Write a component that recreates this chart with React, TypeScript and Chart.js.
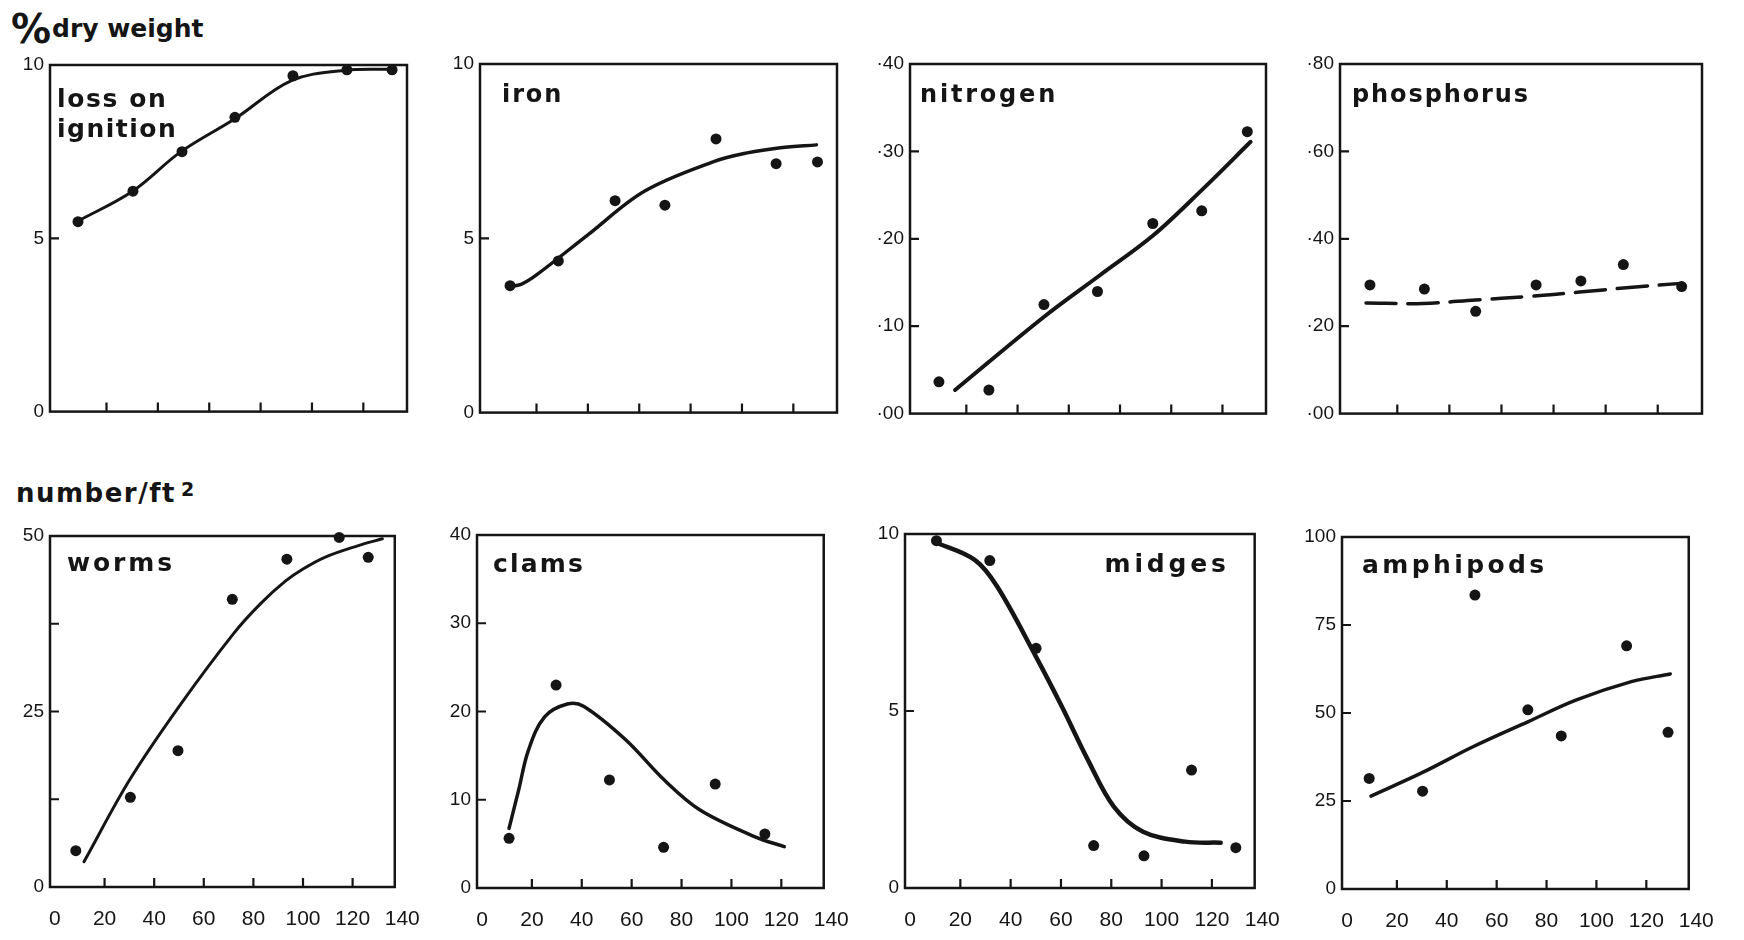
import React, { useEffect, useRef } from "react";
import { Chart, registerables } from "chart.js";

Chart.register(...registerables);

const INK = "#151515";
const TITLE_FONT = "'DejaVu Sans', sans-serif";
const TICK_FONT = "'Liberation Sans', Arial, sans-serif";

// shared x axis (distance)
const xTickValues = [0, 20, 40, 60, 80, 100, 120, 140];
const xInnerTicks = [20, 40, 60, 80, 100, 120];

// loss on ignition (% dry weight)
const lossX = [8.9, 30.3, 49.4, 70.0, 92.6, 113.6, 131.2];
const lossY = [5.48, 6.36, 7.5, 8.49, 9.69, 9.86, 9.86];
const lossCurveX = [9, 30, 49, 70, 92, 113, 131];
const lossCurveY = [5.5, 6.35, 7.5, 8.45, 9.55, 9.85, 9.88];

// iron
const ironX = [9.7, 28.5, 50.6, 70.0, 89.9, 113.3, 129.4];
const ironY = [3.64, 4.35, 6.08, 5.95, 7.85, 7.14, 7.19];
const ironCurveX = [9.5, 14, 20, 40, 62, 89, 102, 115, 129];
const ironCurveY = [3.62, 3.68, 3.95, 5.1, 6.35, 7.2, 7.45, 7.6, 7.68];

// nitrogen
const nitroX = [9.3, 28.8, 50.3, 71.2, 92.8, 111.9, 129.7];
const nitroY = [3.64, 2.7, 12.47, 13.97, 21.75, 23.2, 32.26];
const nitroCurveX = [15.6, 50, 72, 93, 112, 131];
const nitroCurveY = [2.7, 11.0, 15.8, 20.4, 25.6, 31.1];

// phosphorus
const phosX = [9.5, 30.4, 50.1, 73.3, 90.5, 106.8, 129.2];
const phosY = [29.45, 28.5, 23.4, 29.45, 30.35, 34.1, 29.07];
const phosCurveX = [8, 30, 50, 70, 90, 108, 129];
const phosCurveY = [25.3, 25.2, 26.0, 26.8, 27.8, 28.8, 29.8];

// worms (number/ft2)
const wormsX = [8.4, 30.4, 49.6, 71.5, 93.5, 114.6, 126.3];
const wormsY = [5.17, 12.77, 19.42, 40.98, 46.7, 49.8, 46.97];
const wormsCurveX = [11.7, 30, 50, 72, 83, 93, 100, 109, 122, 132];
const wormsCurveY = [3.6, 15.2, 25.7, 36.1, 40.4, 43.6, 45.3, 47.0, 48.6, 49.6];

// clams
const clamsX = [10.85, 29.7, 51.1, 72.8, 93.5, 113.4];
const clamsY = [5.63, 23.0, 12.24, 4.61, 11.78, 6.12];
const clamsCurveX = [10.85, 14.7, 18.6, 25.1, 34.2, 40.7, 57.6, 73.2, 87.4, 109.5, 121.2];
const clamsCurveY = [6.76, 11.1, 15.6, 19.4, 20.85, 20.6, 16.8, 12.2, 8.84, 5.8, 4.68];

// midges
const midgesX = [10.5, 31.7, 50.1, 73.0, 93.0, 111.9, 129.5];
const midgesY = [9.81, 9.25, 6.77, 1.2, 0.91, 3.33, 1.14];
const midgesCurveX = [9.6, 25.7, 34.7, 50.1, 60.4, 70.7, 81, 92.6, 109.4, 123.5];
const midgesCurveY = [9.78, 9.27, 8.51, 6.53, 5.12, 3.62, 2.3, 1.59, 1.31, 1.28];

// amphipods
const amphiX = [8.9, 30.3, 51.3, 72.5, 85.9, 112.1, 128.7];
const amphiY = [31.4, 27.8, 83.5, 50.9, 43.5, 69.1, 44.5];
const amphiCurveX = [9.6, 29.7, 50.5, 72.5, 92, 114, 129.6];
const amphiCurveY = [26.4, 32.9, 40.4, 47.5, 53.7, 58.9, 61.1];

// y axis labels / inner marks
const yLabelsTen = [0, 5, 10];
const yMarksTen = [5];
const yLabelsN = [0, 10, 20, 30, 40];
const yMarksN = [10, 20, 30];
const yLabelsP = [0, 20, 40, 60, 80];
const yMarksP = [20, 40, 60];
const yLabelsWorms = [0, 25, 50];
const yMarksWorms = [12.5, 25, 37.5];
const yLabelsClams = [0, 10, 20, 30, 40];
const yMarksClams = [10, 20, 30];
const yLabelsAmphi = [0, 25, 50, 75, 100];
const yMarksAmphi = [25, 50, 75];

const plainFmt = (v: number) => String(v);
const decFmt = (v: number) => "·" + String(v).padStart(2, "0");

type Panel = {
  key: string;
  left: number;
  top: number;
  w: number;
  h: number;
  bottomRow: boolean;
  yMax: number;
  yLabels: number[];
  yMarks: number[];
  fmt: (v: number) => string;
  title: string[];
  titleAlign: "left" | "right";
  titleDx: number;
  titleBase: number;
  titleLine: number;
  titleSize: number;
  titleSpacing: number[];
  px: number[];
  py: number[];
  cx: number[];
  cy: number[];
  dashed?: boolean;
  lineWidth: number;
};

const panels: Panel[] = [
  {
    key: "loss", left: 50, top: 65, w: 357, h: 352, bottomRow: false, yMax: 10,
    yLabels: yLabelsTen, yMarks: yMarksTen, fmt: plainFmt,
    title: ["loss on", "ignition"], titleAlign: "left", titleDx: 7, titleBase: 42, titleLine: 30,
    titleSize: 25, titleSpacing: [1.6, 1.5],
    px: lossX, py: lossY, cx: lossCurveX, cy: lossCurveY, lineWidth: 3,
  },
  {
    key: "iron", left: 480, top: 64, w: 357, h: 354, bottomRow: false, yMax: 10,
    yLabels: yLabelsTen, yMarks: yMarksTen, fmt: plainFmt,
    title: ["iron"], titleAlign: "left", titleDx: 22, titleBase: 38, titleLine: 30,
    titleSize: 24, titleSpacing: [1.9],
    px: ironX, py: ironY, cx: ironCurveX, cy: ironCurveY, lineWidth: 3.5,
  },
  {
    key: "nitrogen", left: 910, top: 64, w: 356, h: 355, bottomRow: false, yMax: 40,
    yLabels: yLabelsN, yMarks: yMarksN, fmt: decFmt,
    title: ["nitrogen"], titleAlign: "left", titleDx: 10, titleBase: 38, titleLine: 30,
    titleSize: 24, titleSpacing: [2.8],
    px: nitroX, py: nitroY, cx: nitroCurveX, cy: nitroCurveY, lineWidth: 4,
  },
  {
    key: "phosphorus", left: 1340, top: 64, w: 362, h: 355, bottomRow: false, yMax: 80,
    yLabels: yLabelsP, yMarks: yMarksP, fmt: decFmt,
    title: ["phosphorus"], titleAlign: "left", titleDx: 12, titleBase: 38, titleLine: 30,
    titleSize: 24, titleSpacing: [1.9],
    px: phosX, py: phosY, cx: phosCurveX, cy: phosCurveY, dashed: true, lineWidth: 3.5,
  },
  {
    key: "worms", left: 50, top: 536, w: 355, h: 351, bottomRow: true, yMax: 50,
    yLabels: yLabelsWorms, yMarks: yMarksWorms, fmt: plainFmt,
    title: ["worms"], titleAlign: "left", titleDx: 17, titleBase: 35, titleLine: 30,
    titleSize: 25, titleSpacing: [2.9],
    px: wormsX, py: wormsY, cx: wormsCurveX, cy: wormsCurveY, lineWidth: 3,
  },
  {
    key: "clams", left: 477, top: 535, w: 357, h: 353, bottomRow: true, yMax: 40,
    yLabels: yLabelsClams, yMarks: yMarksClams, fmt: plainFmt,
    title: ["clams"], titleAlign: "left", titleDx: 16, titleBase: 37, titleLine: 30,
    titleSize: 25, titleSpacing: [2.2],
    px: clamsX, py: clamsY, cx: clamsCurveX, cy: clamsCurveY, lineWidth: 3.5,
  },
  {
    key: "midges", left: 905, top: 534, w: 360, h: 354, bottomRow: true, yMax: 10,
    yLabels: yLabelsTen, yMarks: yMarksTen, fmt: plainFmt,
    title: ["midges"], titleAlign: "right", titleDx: 25, titleBase: 38, titleLine: 30,
    titleSize: 25, titleSpacing: [3.8],
    px: midgesX, py: midgesY, cx: midgesCurveX, cy: midgesCurveY, lineWidth: 4.5,
  },
  {
    key: "amphipods", left: 1342, top: 537, w: 357, h: 352, bottomRow: true, yMax: 100,
    yLabels: yLabelsAmphi, yMarks: yMarksAmphi, fmt: plainFmt,
    title: ["amphipods"], titleAlign: "left", titleDx: 20, titleBase: 36, titleLine: 30,
    titleSize: 25, titleSpacing: [3.4],
    px: amphiX, py: amphiY, cx: amphiCurveX, cy: amphiCurveY, lineWidth: 3.5,
  },
];

const PAD_LEFT = 50;
const PAD_TOP = 20;

function PanelChart({ p }: { p: Panel }) {
  const ref = useRef<HTMLCanvasElement | null>(null);
  const padRight = p.bottomRow ? 34 : 15;
  const padBottom = p.bottomRow ? 46 : 12;
  const cw = p.w + PAD_LEFT + padRight;
  const ch = p.h + PAD_TOP + padBottom;

  useEffect(() => {
    const canvas = ref.current;
    if (!canvas) return;

    const framePlugin = {
      id: "frame-" + p.key,
      afterDraw(chart: any) {
        const { ctx, chartArea } = chart;
        const xs = chart.scales.x;
        const ys = chart.scales.y;
        ctx.save();
        ctx.strokeStyle = INK;
        ctx.lineWidth = 2.5;
        ctx.strokeRect(chartArea.left, chartArea.top, chartArea.right - chartArea.left, chartArea.bottom - chartArea.top);
        ctx.lineWidth = 2.2;
        ctx.beginPath();
        for (const v of xInnerTicks) {
          const x = xs.getPixelForValue(v);
          ctx.moveTo(x, chartArea.bottom);
          ctx.lineTo(x, chartArea.bottom - 9);
        }
        for (const v of p.yMarks) {
          const y = ys.getPixelForValue(v);
          ctx.moveTo(chartArea.left, y);
          ctx.lineTo(chartArea.left + 9, y);
        }
        ctx.stroke();
        ctx.fillStyle = INK;
        ctx.textBaseline = "alphabetic";
        ctx.font = `bold ${p.titleSize}px ${TITLE_FONT}`;
        p.title.forEach((line, i) => {
          (ctx as any).letterSpacing = `${p.titleSpacing[i] ?? 2}px`;
          const y = chartArea.top + p.titleBase + i * p.titleLine;
          if (p.titleAlign === "right") {
            ctx.textAlign = "right";
            ctx.fillText(line, chartArea.right - p.titleDx, y);
          } else {
            ctx.textAlign = "left";
            ctx.fillText(line, chartArea.left + p.titleDx, y);
          }
        });
        (ctx as any).letterSpacing = "0px";
        ctx.restore();
      },
    };

    const chart = new Chart(canvas, {
      type: "scatter",
      data: {
        datasets: [
          {
            data: p.cx.map((x, i) => ({ x, y: p.cy[i] })),
            showLine: true,
            pointRadius: 0,
            borderColor: INK,
            borderWidth: p.lineWidth,
            borderDash: p.dashed ? [30, 12] : [],
            tension: 0.35,
            borderCapStyle: "round",
            borderJoinStyle: "round",
            clip: false,
          } as any,
          {
            data: p.px.map((x, i) => ({ x, y: p.py[i] })),
            showLine: false,
            pointRadius: 5.5,
            pointBackgroundColor: INK,
            pointBorderWidth: 0,
            clip: false,
          } as any,
        ],
      },
      options: {
        animation: false,
        responsive: false,
        maintainAspectRatio: false,
        devicePixelRatio: 1,
        events: [],
        layout: { padding: { left: 0, top: PAD_TOP, right: padRight, bottom: 0 } },
        plugins: {
          legend: { display: false },
          tooltip: { enabled: false },
          title: { display: false },
        },
        scales: {
          x: {
            type: "linear",
            min: -2,
            max: 137,
            grid: { display: false, drawTicks: false },
            border: { display: false },
            afterBuildTicks: (s: any) => {
              s.ticks = xTickValues.map((v) => ({ value: v }));
            },
            afterFit: (s: any) => {
              s.height = padBottom;
            },
            ticks: {
              display: p.bottomRow,
              autoSkip: false,
              maxRotation: 0,
              padding: 20,
              color: INK,
              font: { family: TICK_FONT, size: 21 },
              callback: (v: any) => String(v),
            },
          },
          y: {
            type: "linear",
            min: 0,
            max: p.yMax,
            grid: { display: false, drawTicks: false },
            border: { display: false },
            afterBuildTicks: (s: any) => {
              s.ticks = p.yLabels.map((v) => ({ value: v }));
            },
            afterFit: (s: any) => {
              s.width = PAD_LEFT;
            },
            ticks: {
              autoSkip: false,
              padding: 6,
              color: INK,
              font: { family: TICK_FONT, size: 19 },
              callback: (v: any) => p.fmt(Number(v)),
            },
          },
        },
      } as any,
      plugins: [framePlugin],
    });
    return () => chart.destroy();
  }, [p]);

  return (
    <canvas
      ref={ref}
      width={cw}
      height={ch}
      style={{
        position: "absolute",
        left: p.left - PAD_LEFT,
        top: p.top - PAD_TOP,
        width: cw,
        height: ch,
      }}
    />
  );
}

export default function App() {
  const heading: React.CSSProperties = {
    position: "absolute",
    fontFamily: TITLE_FONT,
    fontWeight: "bold",
    color: INK,
    lineHeight: 1,
    whiteSpace: "nowrap",
    margin: 0,
  };
  return (
    <div
      style={{
        position: "absolute",
        left: 0,
        top: 0,
        width: 1744,
        height: 940,
        background: "#ffffff",
        overflow: "hidden",
      }}
    >
      <span style={{ ...heading, left: 11, top: 9, fontSize: 40, letterSpacing: -3 }}>%</span>
      <span style={{ ...heading, left: 52, top: 16, fontSize: 25 }}>dry weight</span>
      <span style={{ ...heading, left: 16, top: 480, fontSize: 26, letterSpacing: 1.5 }}>number/ft</span>
      <span style={{ ...heading, left: 181, top: 480, fontSize: 19 }}>2</span>
      {panels.map((p) => (
        <PanelChart key={p.key} p={p} />
      ))}
    </div>
  );
}
